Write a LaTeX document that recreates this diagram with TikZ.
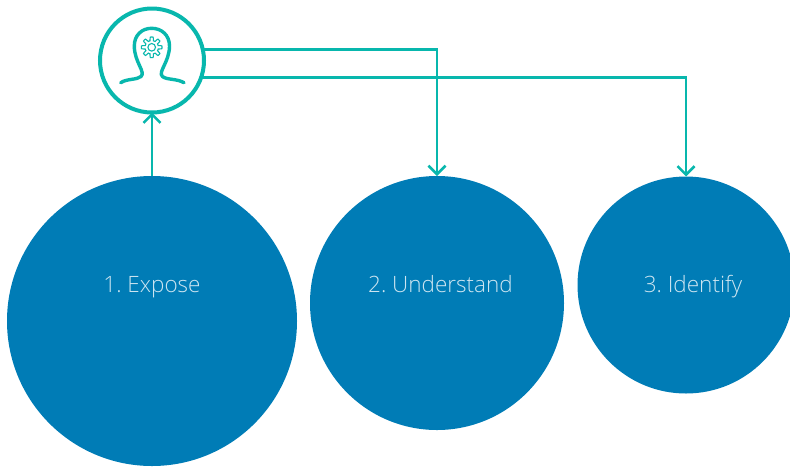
\documentclass[tikz,border=0pt]{standalone}
\usepackage{fontspec}
\setmainfont{Open Sans Light}
\usetikzlibrary{arrows.meta}
\definecolor{discblue}{HTML}{007CB6}
\definecolor{linkteal}{HTML}{08B7AD}
\definecolor{labelblue}{HTML}{CDE5F1}
\begin{document}
\frenchspacing
\begin{tikzpicture}
    [x=1pt, y=-1pt,
    disc/.style={circle, fill=discblue, inner sep=0pt, outer sep=0pt},
    caption/.style={text=labelblue, font=\fontsize{22.5}{26}\selectfont, inner sep=0pt, anchor=base},
    link/.style={draw=linkteal, line width=2.8pt, -{Straight Barb[length=8.5pt,width=17pt,line width=2.6pt]}}]
    \def \gearx {151.7}
    \def \geary {47.3}

    \useasboundingbox (0,0) rectangle (790,467);

    \foreach \name/\x/\y/\d in {expose/152/321/290, understand/437/303/254, identify/686/285/217}
    {
      \node[disc, minimum size=\d pt] (\name) at (\x,\y) {};
    }

    \node[caption] (exposelabel) at (152,292) {1. Expose};
    \node[caption] (understandlabel) at (440.5,292) {2. Understand};
    \node[caption] (identifylabel) at (693,292) {3. Identify};

    \node[circle, draw=linkteal, line width=4pt, fill=white, minimum size=104pt, inner sep=0pt, outer sep=0pt] (icon) at (152,60.5) {};

    % head and shoulders
    \draw[linkteal, line width=3.4pt, line cap=round]
      (120.7,82.7) .. controls (127,78.5) and (137,80) .. (141,76.5)
      .. controls (146,72) and (134.3,62) .. (134.3,46)
      .. controls (134.3,35) and (142,28.3) .. (151.7,28.3)
      .. controls (161.5,28.3) and (169.5,35) .. (169.5,46)
      .. controls (169.5,62) and (157.5,72) .. (162.5,76.5)
      .. controls (166.5,80) and (177,78.5) .. (184,82.7);

    % gear
    \draw[linkteal, line width=1.1pt, shift={(\gearx,\geary)}]
      plot[samples=145, domain=0:360] (\x:{8.5+1.8*max(-1,min(1,2.5*cos(8*\x)))}) -- cycle;
    \draw[linkteal, line width=1.1pt] (\gearx,\geary) circle (3.8);

    \draw[link] (expose.north) -- (icon.south);
    \draw[link] (icon.12.4) -| (understand.north);
    \draw[link] (icon.-19.7) -| (identify.north);
\end{tikzpicture}
\end{document}
